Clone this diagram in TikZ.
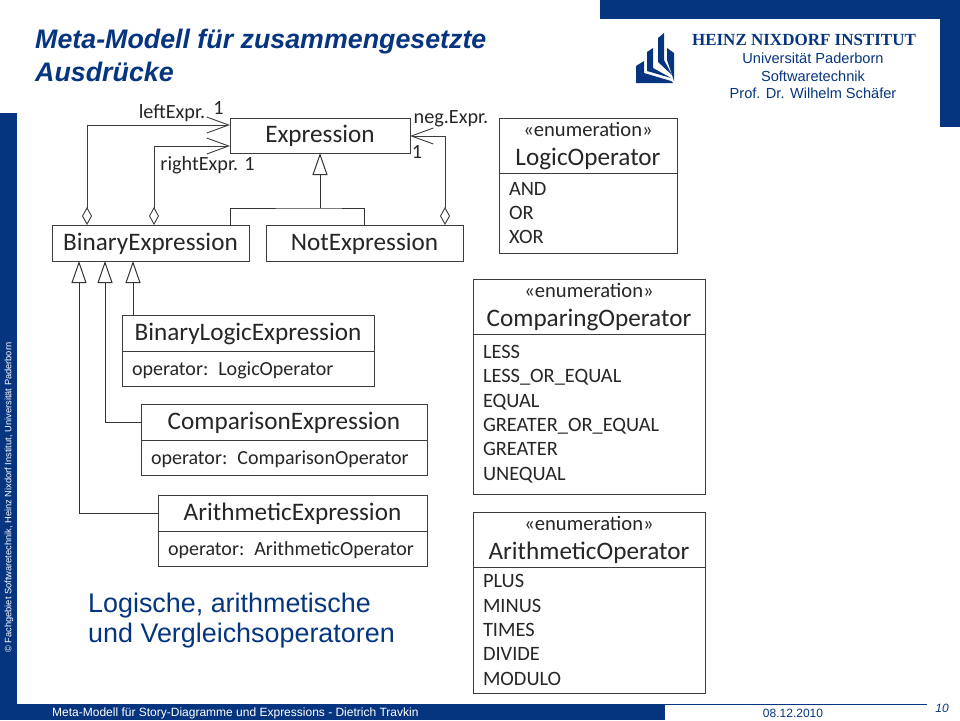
\documentclass[tikz,border=0pt]{standalone}
\usepackage{fontspec}
\setmainfont{Liberation Sans}
\newfontfamily\umlfont{Carlito}
\newfontfamily\nixfont{Liberation Serif}
\usepackage{xcolor}
\usetikzlibrary{arrows.meta,positioning,calc}
\definecolor{unibl}{RGB}{6,53,128}
\definecolor{umlln}{RGB}{60,60,60}
\tikzset{
  umlbox/.style={draw=umlln,line width=0.9pt,fill=white,inner sep=0pt,outer sep=0pt,font=\umlfont\fontsize{25.2}{28}\selectfont,text=black!85},
  clsbox/.style={umlbox,text height=18pt,text depth=4pt},
  umlitems/.style={umlbox,align=left,font=\umlfont\fontsize{20.4}{24.3}\selectfont},
  assoc/.style={draw=umlln,line width=0.9pt,{Diamond[open,fill=white,length=18pt,width=10pt]}-{Straight Barb[length=22pt,width=16pt]}},
  gener/.style={draw=black!80,line width=1pt,{Triangle[open,fill=white,length=22pt,width=15pt]}-},
  lbl/.style={inner sep=0pt,font=\umlfont\fontsize{20.2}{22}\selectfont,text=black!85},
}
\begin{document}
\begin{tikzpicture}[x=1pt,y=-1pt]
\useasboundingbox (0,0) rectangle (960,720);
% frame of the slide
\fill[unibl] (600,0) rectangle (960,19);
\fill[unibl] (940,0) rectangle (960,127);
\fill[unibl] (0,113) rectangle (17,704);
\fill[unibl] (0,704) rectangle (665,720);
\draw[unibl,line width=0.8pt] (665,704.4) -- (927,704.4);
\node[rotate=90,anchor=west,inner sep=0pt,text=white,font=\fontsize{9.3}{11}\selectfont] (copyr) at (9,653) {© Fachgebiet Softwaretechnik, Heinz Nixdorf Institut, Universität Paderborn};
\node[anchor=west,inner sep=0pt,text=white,font=\fontsize{12}{14}\selectfont] (foot) at (52,713.5) {Meta-Modell für Story-Diagramme und Expressions - Dietrich Travkin};
\node[inner sep=0pt,text=unibl,font=\fontsize{12}{14}\selectfont] (date) at (793,713.5) {08.12.2010};
\node[inner sep=0pt,text=unibl,font=\itshape\fontsize{12}{14}\selectfont] (pageno) at (942,708) {10};
% title and institute
\node[anchor=north west,inner sep=0pt,align=left,text=unibl,font=\bfseries\itshape\fontsize{26.8}{33}\selectfont] (title) at (35,28.5) {Meta-Modell für zusammengesetzte\\Ausdrücke};
\node[inner sep=0pt,text=unibl,font=\nixfont\bfseries\fontsize{17}{18}\selectfont] (inst) at (804,39.5) {HEINZ NIXDORF INSTITUT};
\node[inner sep=0pt,text=unibl,align=center,font=\fontsize{14.6}{17.7}\selectfont] (chair) at (813,76) {Universität Paderborn\\Softwaretechnik\\Prof. Dr. Wilhelm Schäfer};
\fill[unibl] (636,66) -- (644,61) -- (644,73) -- (671,81) -- (673,83) -- (636,83) -- cycle;
\fill[unibl] (647,52) -- (653,48) -- (653,68) -- (671,78) -- (647,71) -- cycle;
\fill[unibl] (658,38) -- (664,33) -- (664,60) -- (672,75) -- (658,62) -- cycle;
\fill[unibl] (667,48) -- (674,53) -- (674,81) -- (667,60) -- cycle;
% classes
\node[clsbox,minimum width=180,minimum height=35] (expr) at (320,135.5) {Expression};
\node[clsbox,minimum width=197,minimum height=36] (binexpr) at (150.5,243) {BinaryExpression};
\node[clsbox,minimum width=197,minimum height=36] (notexpr) at (364.5,243) {NotExpression};
\foreach \nam/\lab/\oper/\xl/\xr/\yt in {%
  logicexpr/BinaryLogicExpression/LogicOperator/122/374/315,
  compexpr/ComparisonExpression/ComparisonOperator/141/427/404,
  arithexpr/ArithmeticExpression/ArithmeticOperator/158/427/495}{%
  \node[clsbox,minimum width=\xr-\xl,minimum height=36] (\nam) at ({(\xl+\xr)/2},\yt+18) {\lab};
  \node[clsbox,minimum width=\xr-\xl,minimum height=35.5,below=0pt of \nam,text width=\xr-\xl-20,align=left,
    font=\umlfont\fontsize{20}{22}\selectfont] (\nam op) {operator: \oper};
}
% enumerations
\foreach \nam/\lab/\xl/\xr/\yt/\bh/\lst in {%
  logicop/LogicOperator/499/677/118/80/{AND\\OR\\XOR},
  compop/ComparingOperator/473/705/279/160/{LESS\\LESS\_OR\_EQUAL\\EQUAL\\GREATER\_OR\_EQUAL\\GREATER\\UNEQUAL},
  arithop/ArithmeticOperator/473/705/512/126/{PLUS\\MINUS\\TIMES\\DIVIDE\\MODULO}}{%
  \node[umlbox,minimum width=\xr-\xl,minimum height=55,align=center,text depth=4pt] (\nam) at ({(\xl+\xr)/2},\yt+27.5) {{\fontsize{20.6}{22}\selectfont «enumeration»}\\[1pt]\lab};
  \node[umlitems,minimum width=\xr-\xl,minimum height=\bh,below=0pt of \nam,text width=\xr-\xl-20] (\nam list) {\lst};
}
% connectors
\draw[assoc] ($(binexpr.north west)+(35,0)$) |- ($(expr.west)+(0,-10.5)$);
\draw[assoc] ($(binexpr.north west)+(102,0)$) |- ($(expr.west)+(0,10.5)$);
\draw[assoc] ($(notexpr.north east)+(-18,0)$) |- ($(expr.east)+(0,0.5)$);
\coordinate (genjoin) at ($(expr.south)+(0,55)$);
\draw[gener] (expr.south) -- (genjoin);
\draw[draw=black!80,line width=1pt] (binexpr.north east -| expr.west) |- (genjoin) -| (notexpr.north);
\draw[gener] ($(binexpr.south west)+(27,0)$) |- (arithexpr.west);
\draw[gener] ($(binexpr.south west)+(53,0)$) |- (compexpr.west);
\draw[gener] ($(binexpr.south west)+(81,0)$) -- ($(logicexpr.north west)+(11,0)$);
% labels
\node[lbl] (leftlab) at (172,113) {leftExpr.};
\node[lbl] (leftone) at (218.5,107.5) {1};
\node[lbl] (rightlab) at (207.5,165.5) {rightExpr. 1};
\node[lbl] (neglab) at (451,119) {neg.Expr.};
\node[lbl] (negone) at (417,152) {1};
\node[anchor=north west,inner sep=0pt,align=left,text=unibl,font=\fontsize{26.9}{30}\selectfont] (note) at (88,592.5) {Logische, arithmetische\\und Vergleichsoperatoren};
\end{tikzpicture}
\end{document}
